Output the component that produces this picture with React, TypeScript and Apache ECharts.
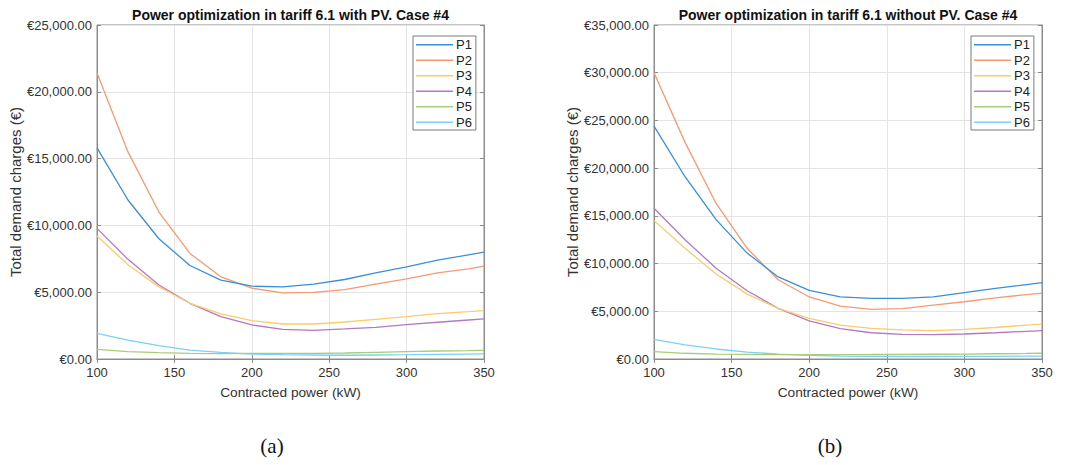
import React, { useEffect, useRef } from "react";
import * as echarts from "echarts";

// Contracted power (kW) evaluated for each curve
const contractedPower = [100, 120, 140, 160, 180, 200, 220, 240, 260, 280, 300, 320, 340, 350];

const periodNames = ["P1", "P2", "P3", "P4", "P5", "P6"];

// Total demand charges (€) per tariff period, tariff 6.1 with PV
const withPV_P1 = [15800, 11900, 9000, 7000, 5900, 5450, 5400, 5600, 5950, 6450, 6900, 7400, 7800, 8000];
const withPV_P2 = [21400, 15500, 11000, 7900, 6150, 5300, 4950, 4980, 5200, 5600, 6000, 6450, 6750, 6950];
const withPV_P3 = [9200, 7050, 5400, 4170, 3370, 2870, 2620, 2620, 2770, 2970, 3170, 3390, 3540, 3620];
const withPV_P4 = [9780, 7460, 5540, 4170, 3170, 2550, 2220, 2150, 2250, 2370, 2570, 2750, 2920, 3000];
const withPV_P5 = [720, 550, 470, 420, 400, 420, 420, 420, 450, 500, 550, 600, 620, 650];
const withPV_P6 = [1920, 1420, 1000, 670, 500, 370, 320, 300, 280, 300, 320, 350, 370, 380];

// Total demand charges (€) per tariff period, tariff 6.1 without PV
const noPV_P1 = [24400, 19100, 14600, 11100, 8600, 7200, 6500, 6350, 6350, 6500, 6950, 7400, 7800, 8000];
const noPV_P2 = [30000, 22700, 16300, 11600, 8300, 6500, 5550, 5200, 5270, 5650, 6000, 6400, 6750, 6900];
const noPV_P3 = [14500, 11600, 8900, 6800, 5300, 4250, 3550, 3200, 3050, 2970, 3100, 3300, 3550, 3650];
const noPV_P4 = [15800, 12500, 9500, 7150, 5300, 4000, 3180, 2750, 2580, 2550, 2620, 2750, 2900, 2970];
const noPV_P5 = [770, 600, 520, 480, 460, 450, 460, 470, 490, 500, 520, 550, 580, 600];
const noPV_P6 = [2060, 1470, 1050, 730, 520, 380, 310, 280, 260, 260, 270, 280, 300, 310];

const withPVSeries = [withPV_P1, withPV_P2, withPV_P3, withPV_P4, withPV_P5, withPV_P6];
const noPVSeries = [noPV_P1, noPV_P2, noPV_P3, noPV_P4, noPV_P5, noPV_P6];

const titleWithPV = "Power optimization in tariff 6.1 with PV. Case #4";
const titleNoPV = "Power optimization in tariff 6.1 without PV. Case #4";

const periodColors = ["#3a8fd6", "#f59a72", "#fccb6a", "#b479c4", "#a8cc78", "#7dd0f5"];

const FONT = "'Liberation Sans', Arial, Helvetica, sans-serif";
const FRAME = "#8c8c8c";
const TEXT = "#333333";

const euro = (v: number) =>
  "€" +
  v.toLocaleString("en-US", { minimumFractionDigits: 2, maximumFractionDigits: 2 });

export default function App() {
  const ref = useRef<HTMLDivElement>(null);

  useEffect(() => {
    document.body.style.margin = "0";
    if (!ref.current) return;
    const chart = echarts.init(ref.current, null, { renderer: "svg" });

    const grids = [
      { left: 97, top: 25, width: 387, height: 334 },
      { left: 654, top: 25, width: 388, height: 334 },
    ];
    const yMax = [25000, 35000];

    const xAxes: any[] = [];
    const yAxes: any[] = [];
    // bottom / left axes with labels
    [0, 1].forEach((g) => {
      xAxes.push({
        type: "value",
        gridIndex: g,
        min: 100,
        max: 350,
        interval: 50,
        name: "Contracted power (kW)",
        nameLocation: "middle",
        nameGap: 26,
        nameTextStyle: { fontFamily: FONT, fontSize: 13.7, color: TEXT },
        axisLine: { show: true, lineStyle: { color: FRAME, width: 1 } },
        axisTick: { show: true, inside: true, length: 4, lineStyle: { color: FRAME } },
        axisLabel: { fontFamily: FONT, fontSize: 13, color: TEXT, margin: 7 },
        splitLine: { show: true, lineStyle: { color: "#e4e4e4", width: 1 } },
      });
      yAxes.push({
        type: "value",
        gridIndex: g,
        min: 0,
        max: yMax[g],
        interval: 5000,
        name: "Total demand charges (€)",
        nameLocation: "middle",
        nameGap: g === 0 ? 74 : 73,
        nameTextStyle: { fontFamily: FONT, fontSize: 15, color: TEXT },
        axisLine: { show: true, lineStyle: { color: FRAME, width: 1 } },
        axisTick: { show: true, inside: true, length: 4, lineStyle: { color: FRAME } },
        axisLabel: {
          fontFamily: FONT,
          fontSize: 13,
          color: TEXT,
          margin: 5,
          formatter: (v: number) => euro(v),
        },
        splitLine: { show: true, lineStyle: { color: "#e4e4e4", width: 1 } },
      });
    });
    // top / right axes carrying only inward ticks
    [0, 1].forEach((g) => {
      xAxes.push({
        type: "value",
        gridIndex: g,
        position: "top",
        min: 100,
        max: 350,
        interval: 50,
        axisLine: { show: true, lineStyle: { color: FRAME, width: 1 } },
        axisTick: { show: true, inside: true, length: 4, lineStyle: { color: FRAME } },
        axisLabel: { show: false },
        splitLine: { show: false },
      });
      yAxes.push({
        type: "value",
        gridIndex: g,
        position: "right",
        min: 0,
        max: yMax[g],
        interval: 5000,
        axisLine: { show: true, lineStyle: { color: FRAME, width: 1 } },
        axisTick: { show: true, inside: true, length: 4, lineStyle: { color: FRAME } },
        axisLabel: { show: false },
        splitLine: { show: false },
      });
    });

    const makeSeries = (sets: number[][], axisIndex: number) =>
      sets.map((vals, i) => ({
        name: periodNames[i],
        type: "line",
        xAxisIndex: axisIndex,
        yAxisIndex: axisIndex,
        data: contractedPower.map((x, k) => [x, vals[k]]),
        symbol: "none",
        smooth: false,
        lineStyle: { color: periodColors[i], width: 1.3 },
        itemStyle: { color: periodColors[i] },
        z: 10 - i,
      }));

    const legendBase = {
      orient: "vertical",
      top: 36,
      data: periodNames,
      icon: "rect",
      itemWidth: 37,
      itemHeight: 1.6,
      itemGap: 2,
      padding: [2, 4, 1, 3],
      borderColor: "#7a7a7a",
      borderWidth: 1,
      backgroundColor: "#ffffff",
      selectedMode: false,
      textStyle: { fontFamily: FONT, fontSize: 13, color: "#222", lineHeight: 13.5, padding: [0, 0, 0, -2] },
    };

    const titleStyle = {
      fontFamily: FONT,
      fontSize: 14,
      fontWeight: "bold",
      fill: "#111",
      textAlign: "center",
      textVerticalAlign: "middle",
    };

    chart.setOption({
      animation: false,
      backgroundColor: "#ffffff",
      grid: grids.map((g) => ({
        ...g,
        show: true,
        borderColor: FRAME,
        borderWidth: 1,
        backgroundColor: "transparent",
      })),
      xAxis: xAxes,
      yAxis: yAxes,
      legend: [
        { ...legendBase, left: 413 },
        { ...legendBase, left: 971 },
      ],
      series: [...makeSeries(withPVSeries, 0), ...makeSeries(noPVSeries, 1)],
      graphic: [
        { type: "text", x: 290.5, y: 15, style: { ...titleStyle, text: titleWithPV } },
        { type: "text", x: 848, y: 15, style: { ...titleStyle, text: titleNoPV } },
        {
          type: "text",
          x: 272,
          y: 446,
          style: {
            text: "(a)",
            fontFamily: "'Liberation Serif', 'Times New Roman', serif",
            fontSize: 21,
            fill: "#111",
            textAlign: "center",
            textVerticalAlign: "middle",
          },
        },
        {
          type: "text",
          x: 830,
          y: 446,
          style: {
            text: "(b)",
            fontFamily: "'Liberation Serif', 'Times New Roman', serif",
            fontSize: 21,
            fill: "#111",
            textAlign: "center",
            textVerticalAlign: "middle",
          },
        },
      ],
    });

    return () => chart.dispose();
  }, []);

  return <div ref={ref} style={{ width: 1073, height: 465 }} />;
}
